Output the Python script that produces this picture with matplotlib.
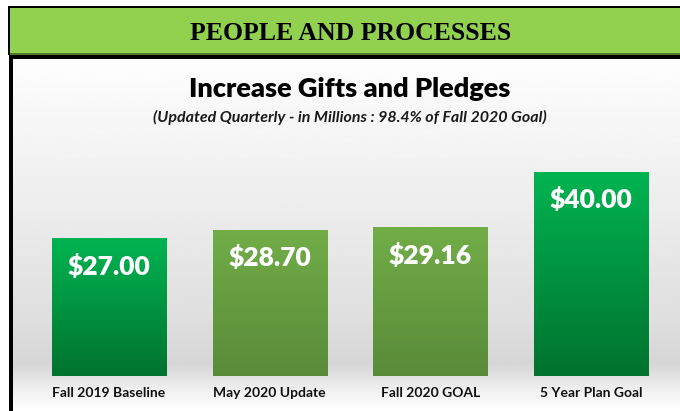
import numpy as np
import matplotlib
matplotlib.use("Agg")
import matplotlib.pyplot as plt
from matplotlib.colors import LinearSegmentedColormap
from matplotlib.patches import Rectangle

# data
categories = ["Fall 2019 Baseline", "May 2020 Update", "Fall 2020 GOAL", "5 Year Plan Goal"]
values = [27.00, 28.70, 29.16, 40.00]
value_labels = ["$27.00", "$28.70", "$29.16", "$40.00"]
header = "PEOPLE AND PROCESSES"
title = "Increase Gifts and Pledges"
subtitle = "(Updated Quarterly - in Millions : 98.4% of Fall 2020 Goal)"

bright = ("#00B451", "#00732F")
olive = ("#72AD48", "#5A8B39")
bar_colors = [bright, olive, olive, bright]

W, H = 680, 411
fig = plt.figure(figsize=(W / 100, H / 100), dpi=100)

# background axes in pixel coordinates
bg = fig.add_axes([0, 0, 1, 1])
bg.set_xlim(0, W)
bg.set_ylim(H, 0)
bg.axis("off")

# soft grey gradient behind the chart
rows = np.linspace(0, 1, 200)
ys = np.array([0.0, 0.5, 0.75, 0.87, 0.95, 1.0])
gs = np.array([0.995, 0.915, 0.87, 0.84, 0.95, 1.0])
grad = np.interp(rows, ys, gs)[:, None] * np.ones((1, 2))
bg.imshow(grad, cmap="gray", vmin=0, vmax=1, extent=(13, W, 411, 59),
          aspect="auto", zorder=0)

# header band
bg.add_patch(Rectangle((8, 6), W, 49, facecolor="#92D050", edgecolor="none", zorder=1))
bg.add_patch(Rectangle((8, 6), W, 2, facecolor="black", edgecolor="none", zorder=2))
bg.add_patch(Rectangle((8, 6), 2, 49, facecolor="black", edgecolor="none", zorder=2))
bg.add_patch(Rectangle((10, 53.5), W, 1.5, facecolor="#4E7A2A", edgecolor="none", zorder=2))
bg.add_patch(Rectangle((9, 55), W, 4.5, facecolor="black", edgecolor="none", zorder=2))
bg.add_patch(Rectangle((9, 55), 4, H, facecolor="black", edgecolor="none", zorder=2))
bg.text(351, 33, header, ha="center", va="center", fontsize=18.5,
        fontweight="bold", family="Liberation Serif", color="black", zorder=3)

bg.text(350, 89, title, ha="center", va="center", fontsize=19.5,
        fontweight="heavy", family="Lato", color="black", zorder=3)
bg.text(350, 117, subtitle, ha="center", va="center", fontsize=11.5,
        fontweight="bold", style="italic", family="Lato", color="#1a1a1a", zorder=3)

# bar axes: y=0 at pixel 376, 5.1 px per unit; bar centres 160.7 px apart
ax = fig.add_axes([13 / W, (H - 376) / H, (W - 13) / W, (376 - 59) / H])
ax.patch.set_alpha(0)
ax.set_ylim(0, 317 / 5.1)
ax.set_xlim((13 - 109) / 160.7, (W - 109) / 160.7)
ax.axis("off")

x = np.arange(len(values))
bars = ax.bar(x, values, width=0.71, color="none", edgecolor="none")
for b, (top, bot) in zip(bars, bar_colors):
    cmap = LinearSegmentedColormap.from_list("g", [bot, top])
    g = np.linspace(0, 1, 100)[:, None]
    im = ax.imshow(g, cmap=cmap, origin="lower", aspect="auto",
                   extent=(b.get_x(), b.get_x() + b.get_width(), 0, b.get_height()),
                   zorder=2)
    im.set_clip_path(b)

for xi, v, lab in zip(x, values, value_labels):
    ax.annotate(lab, (xi, v), xytext=(0, -20), textcoords="offset points",
                ha="center", va="center", fontsize=19, fontweight="heavy",
                family="Lato", color="white", zorder=3)
    ax.annotate(categories[xi], (xi, 0), xytext=(0, -12), textcoords="offset points",
                ha="center", va="center", fontsize=10, fontweight="bold",
                family="Lato", color="#111111", annotation_clip=False, zorder=3)

fig.savefig("out.png", dpi=100)
